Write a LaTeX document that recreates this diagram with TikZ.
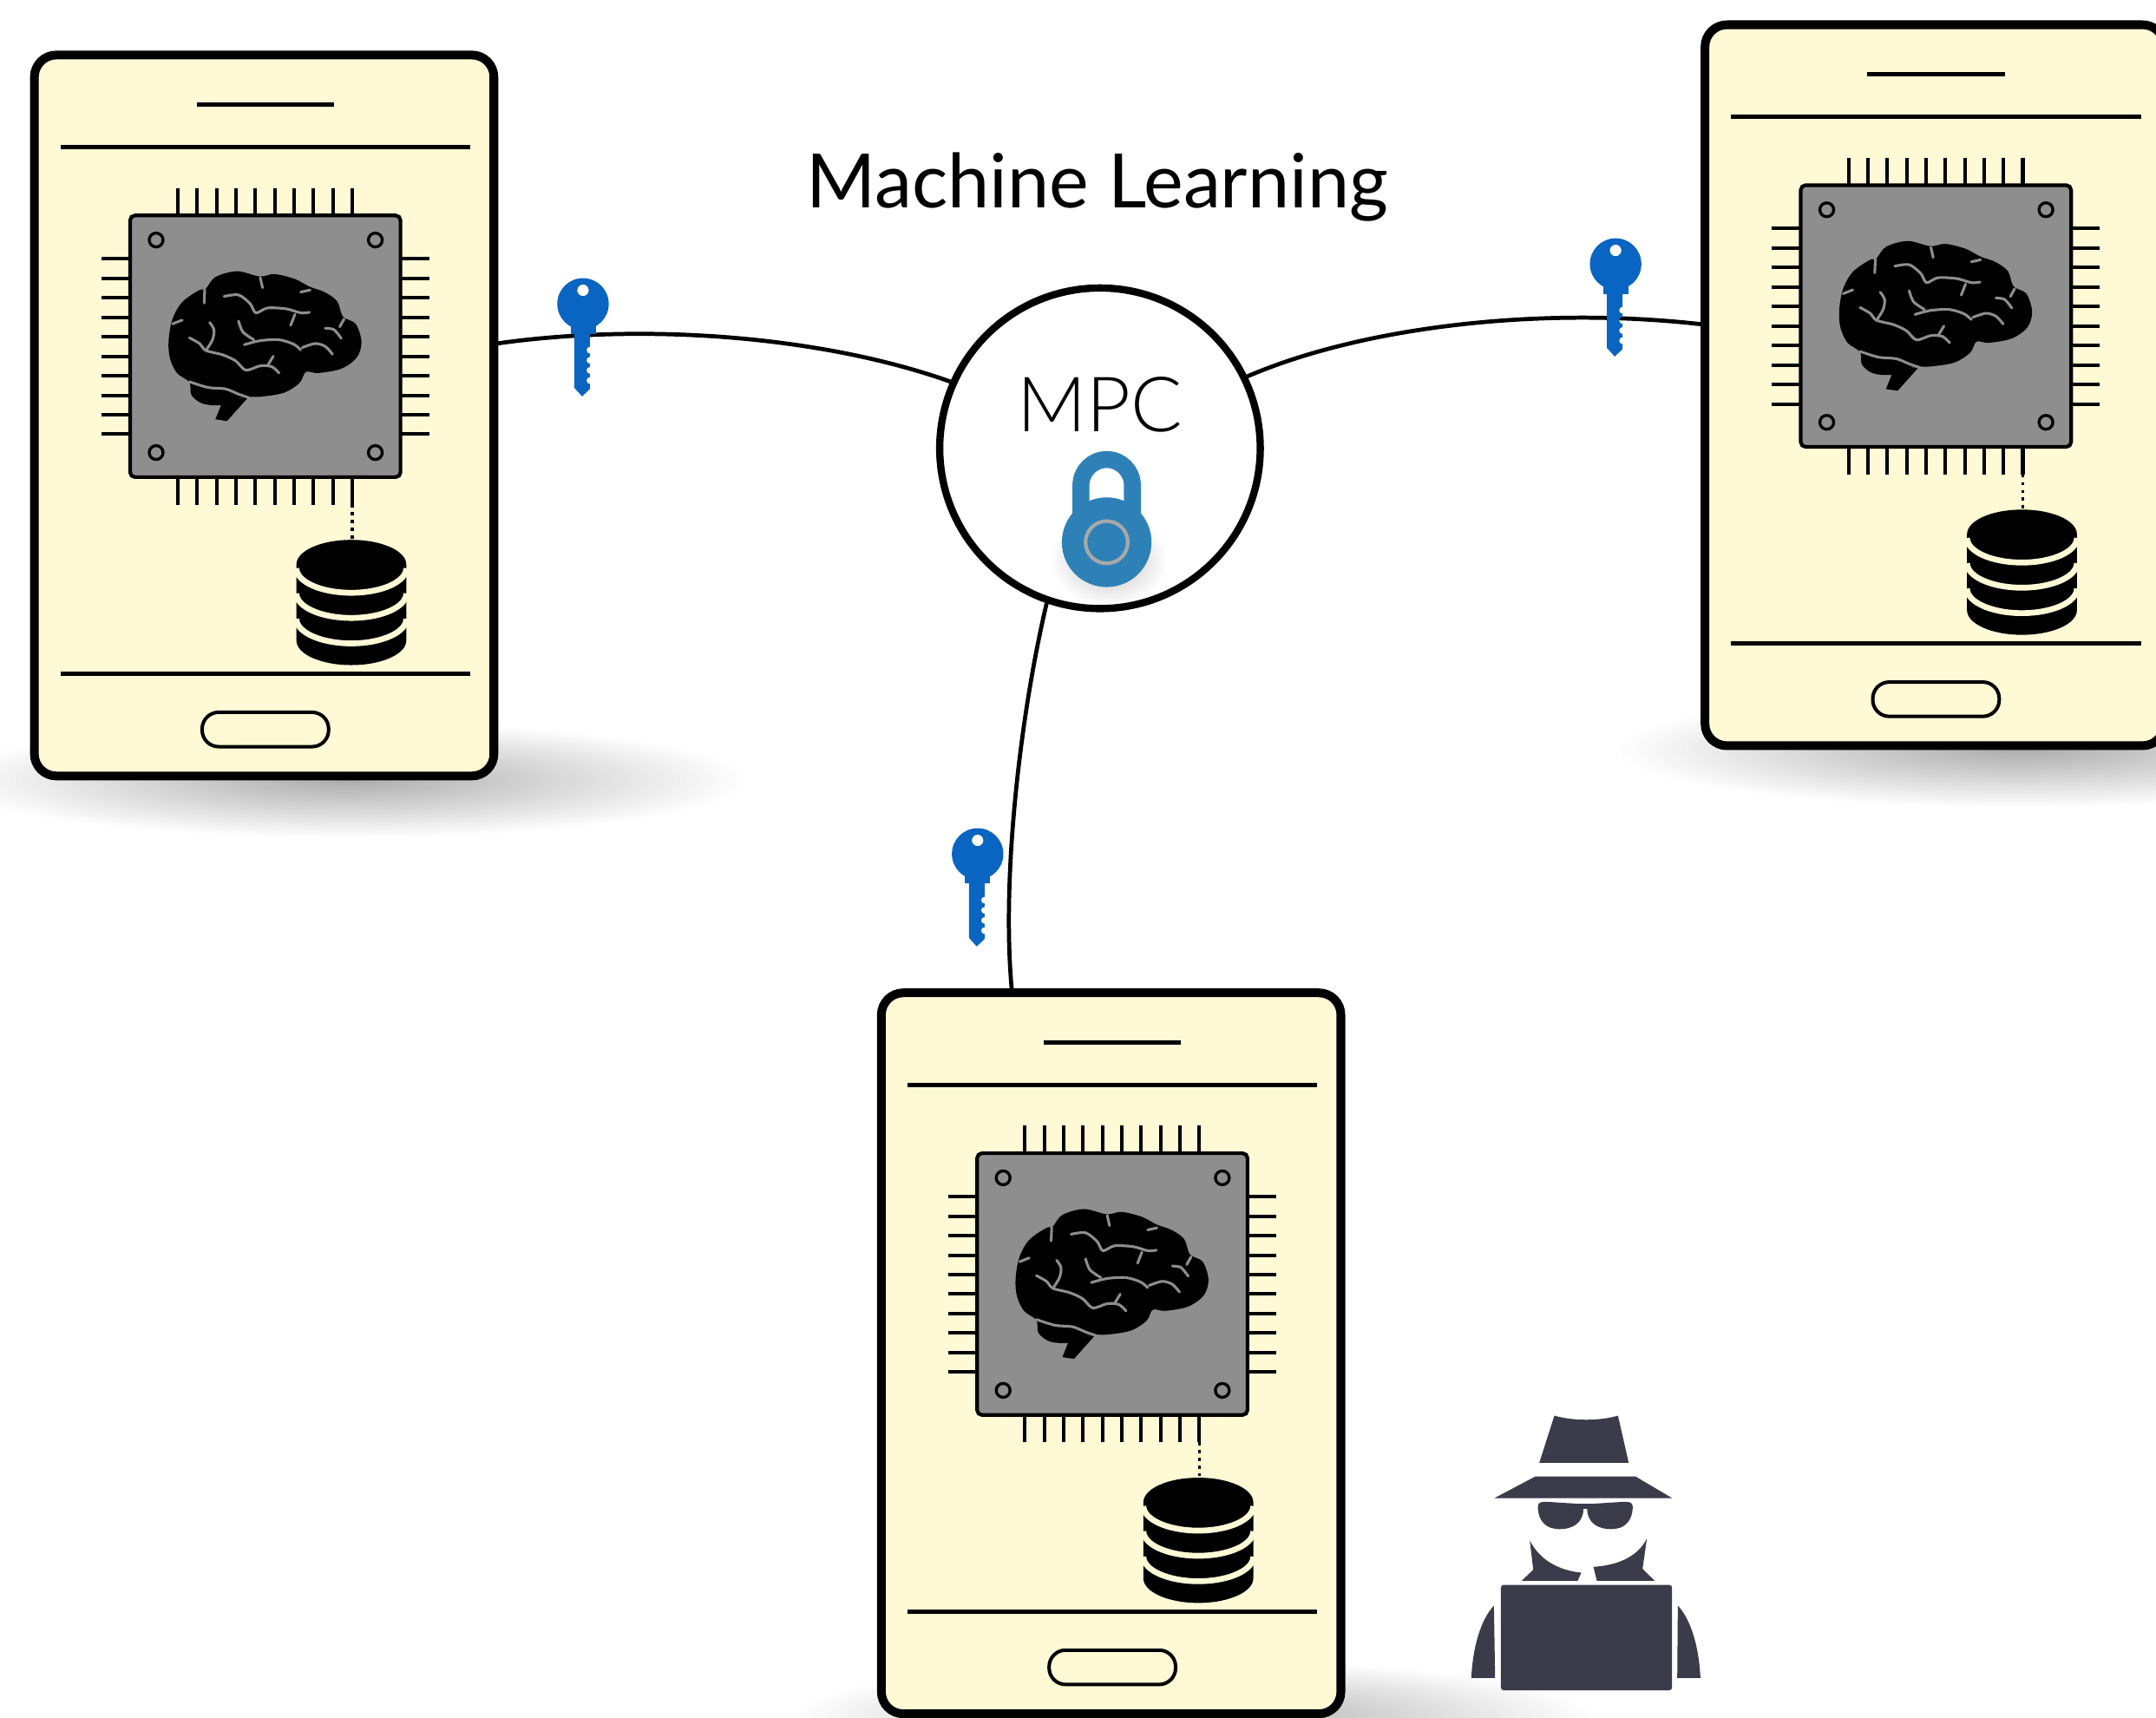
\documentclass[tikz,border=0pt]{standalone}
\usepackage{fontspec}
\newfontfamily\titlefont{Lato}
\newfontfamily\mpcfont{Lato Light}
\usetikzlibrary{fadings}

\definecolor{screen}{HTML}{FFF9D6}
\definecolor{chipgray}{HTML}{8E8E8E}
\definecolor{keyblue}{HTML}{0A64C1}
\definecolor{lockblue}{HTML}{2E81B7}
\definecolor{spycol}{HTML}{3C3B4A}
\definecolor{ringgray}{HTML}{A8A8A8}

\tikzfading[name=softfade, inner color=transparent!0, outer color=transparent!100]

% chip with a brain icon, in a fine local grid
\newcommand\drawbrainchip{%
  \foreach \i in {0,...,9} {
    \draw[pin] ({315+67*\i},50) -- ({315+67*\i},145);
    \draw[pin] ({315+67*\i},1050) -- ({315+67*\i},1145);
    \draw[pin] (50,{295+67.4*\i}) -- (150,{295+67.4*\i});
    \draw[pin] (1085,{295+67.4*\i}) -- (1185,{295+67.4*\i});
  }
  \draw[line width=0.75pt, fill=chipgray, rounded corners=1pt] (150,145) rectangle (1085,1050);
  \foreach \p in {(240,230),(998,230),(240,965),(998,965)}
    \draw[line width=0.6pt] \p circle[radius=24];
  \fill[black] plot[smooth cycle, tension=0.55] coordinates {(283,580) (296,505) (330,445) (388,404)
    (412,398) (445,358) (520,338) (598,356) (650,348) (720,365) (772,392) (822,410) (866,442)
    (886,495) (930,520) (950,582) (934,636) (880,675) (800,690) (758,686) (736,724) (682,758)
    (600,772) (540,774) (470,800) (402,796) (362,766) (355,722) (312,690) (288,640)};
  \fill[black] (562,770) -- (485,856) -- (445,850) -- (468,792) -- cycle;
  \draw[sulcus] (408,400) -- (406,448);
  \draw[sulcus] (297,520) -- (330,507);
  \draw[sulcus] plot[smooth] coordinates {(355,568) (390,588) (412,612) (470,627) (515,648) (550,680) (600,665) (640,668) (665,690)};
  \draw[sulcus] (625,665) -- (645,632);
  \draw[sulcus] plot[smooth] coordinates {(412,612) (435,575) (440,540) (425,515)};
  \draw[sulcus] plot[smooth] coordinates {(475,425) (525,420) (565,450) (585,482) (625,465) (690,468) (740,482) (770,480)};
  \draw[sulcus] (720,487) -- (705,525);
  \draw[sulcus] plot[smooth] coordinates {(525,510) (540,548) (578,575)};
  \draw[sulcus] plot[smooth] coordinates {(545,592) (600,578) (665,575) (715,590) (740,610)};
  \draw[sulcus] plot[smooth] coordinates {(745,602) (790,588) (825,598) (850,625)};
  \draw[sulcus] (600,360) -- (608,395);
  \draw[sulcus] (740,410) -- (772,403);
  \draw[sulcus] plot[smooth] coordinates {(825,535) (855,540) (880,570)};
  \draw[sulcus] (890,503) -- (875,530);
  \draw[sulcus] plot[smooth] coordinates {(355,720) (420,740) (480,745) (525,763) (560,775)};
  \draw[line width=0.6pt, densely dotted] (918,1145) -- (918,1268);
}

% stacked-disc data store
\newcommand\drawdatastore{%
  \fill[black] (65,212) -- (65,475) arc[start angle=180, end angle=0, x radius=190, y radius=85]
    -- (445,212) arc[start angle=0, end angle=-180, x radius=190, y radius=85] -- cycle;
  \foreach \c in {225,312,400}
    \draw[band] (65,\c) arc[start angle=180, end angle=0, x radius=190, y radius=85];
}

\tikzset{
  phonebody/.style={draw=black, line width=1.8pt, fill=screen, rounded corners=0.16cm,
    minimum width=3.34cm, minimum height=5.24cm, inner sep=0pt, outer sep=0pt, anchor=north west},
  rule/.style={line width=0.85pt},
  pin/.style={line width=0.72pt},
  sulcus/.style={draw=chipgray, line width=0.55pt, line cap=round},
  band/.style={draw=screen, line width=1.2pt},
  conn/.style={line width=0.85pt},
  softshadow/.style={fill=black!40, path fading=softfade},
  phone/.pic={
    \fill[softshadow, fill=black!32] (230,530) ellipse[x radius=290, y radius=42];
    \node[phonebody] (-body) at (3,3) {};
    \draw[rule] (121,39) -- (221,39);
    \draw[rule] (22,70) -- (320,70);
    \draw[rule] (22,453) -- (320,453);
    \draw[line width=0.72pt, rounded corners=0.12cm] (125,481) rectangle (217,506);
    \begin{scope}[shift={(41.09,89.18)}, scale=0.2103]
      \drawbrainchip
    \end{scope}
    \begin{scope}[shift={(179.9,328.9)}, scale=0.2103]
      \drawdatastore
    \end{scope}
  },
  key/.pic={
    \begin{scope}[scale=0.2103]
      \fill[keyblue, even odd rule] (0,0) circle[radius=89] (0,-47) circle[radius=20];
      \fill[keyblue] (-43,78) rectangle (44,103);
      \fill[keyblue] (-30,100) -- (-30,290) -- (-3,320) -- (24,294)
        -- (24,277) arc[start angle=90, end angle=270, radius=12]
        -- (24,242) arc[start angle=90, end angle=270, radius=12]
        -- (24,207) arc[start angle=90, end angle=270, radius=12]
        -- (24,172) arc[start angle=90, end angle=270, radius=12]
        -- (24,100) -- cycle;
    \end{scope}
  }
}

\begin{document}
\begin{tikzpicture}[x=0.01cm, y=-0.01cm]
\useasboundingbox (0,0) rectangle (1568,1249);
\fill[white] (0,0) rectangle (1568,1249);

% the three devices
\pic (p1) at (22,37) {phone};
\pic (p2) at (1237,15) {phone};
\pic (p3) at (638,719) {phone};

% secure computation hub
\node[circle, draw, line width=1.5pt, fill=white, minimum size=2.33cm, inner sep=0pt] (mpc) at (800,326) {};

\draw[conn] ([yshift=0.52cm]p1-body.east) .. controls (470,234) and (600,245) .. (mpc.156);
\draw[conn] (mpc.26.6) .. controls (990,238) and (1120,222) .. ([yshift=0.44cm]p2-body.west);
\draw[conn] (mpc.251) .. controls (742,520) and (728,640) .. ([xshift=-0.72cm]p3-body.north);

\node[font=\mpcfont\fontsize{15.8}{18}\selectfont, anchor=base, inner sep=0pt] (mpclabel) at (800,314) {MPC};

% padlock
\begin{scope}[shift={(675.1,201.9)}, scale=0.2103]
  \fill[softshadow, fill=black!25] (625,975) ellipse[x radius=200, y radius=160];
  \draw[lockblue, line width=3.5pt] (528,830) -- (528,718) arc[start angle=180, end angle=360, radius=89] -- (706,830);
  \fill[lockblue] (617,915) circle[radius=155];
  \draw[ringgray, line width=0.75pt] (617,915) circle[radius=73];
\end{scope}

% keys on the links
\pic (k1) at (424,221) {key};
\pic (k2) at (1175,192) {key};
\pic (k3) at (711,621) {key};

\node[font=\titlefont\fontsize{15.5}{18}\selectfont, anchor=base, inner sep=0pt] (title) at (798,151) {Machine Learning};

% eavesdropper
\begin{scope}[shift={(1060,1009.5)}, scale=0.2103, spycol]
  \fill (335,95) .. controls (400,114) and (490,114) .. (555,95) -- (592,258) -- (283,258) -- cycle;
  \fill (270,305) -- (615,305) -- (742,380) -- (128,380) -- cycle;
  \fill (278,410) .. controls (278,395) and (290,392) .. (310,393) -- (420,400)
    .. controls (440,402) and (438,430) .. (428,450) .. controls (412,485) and (360,495) .. (320,482)
    .. controls (290,470) and (278,440) .. cycle;
  \fill (606,410) .. controls (606,395) and (594,392) .. (574,393) -- (464,400)
    .. controls (444,402) and (446,430) .. (456,450) .. controls (472,485) and (524,495) .. (564,482)
    .. controls (594,470) and (606,440) .. cycle;
  \fill (420,399) rectangle (464,416);
  \fill (250,527) .. controls (285,595) and (350,630) .. (428,638) -- (416,666) -- (222,666) -- (262,628) -- cycle;
  \fill (655,520) .. controls (625,580) and (560,612) .. (470,618) -- (482,666) -- (682,666) -- (640,625) -- cycle;
  \fill[rounded corners=0.6pt] (150,680) rectangle (742,1045);
  \fill (126,752) -- (130,1002) -- (48,1002) .. controls (52,900) and (80,800) .. cycle;
  \fill (762,752) -- (760,1002) -- (840,1002) .. controls (836,900) and (808,800) .. cycle;
\end{scope}
\end{tikzpicture}
\end{document}
